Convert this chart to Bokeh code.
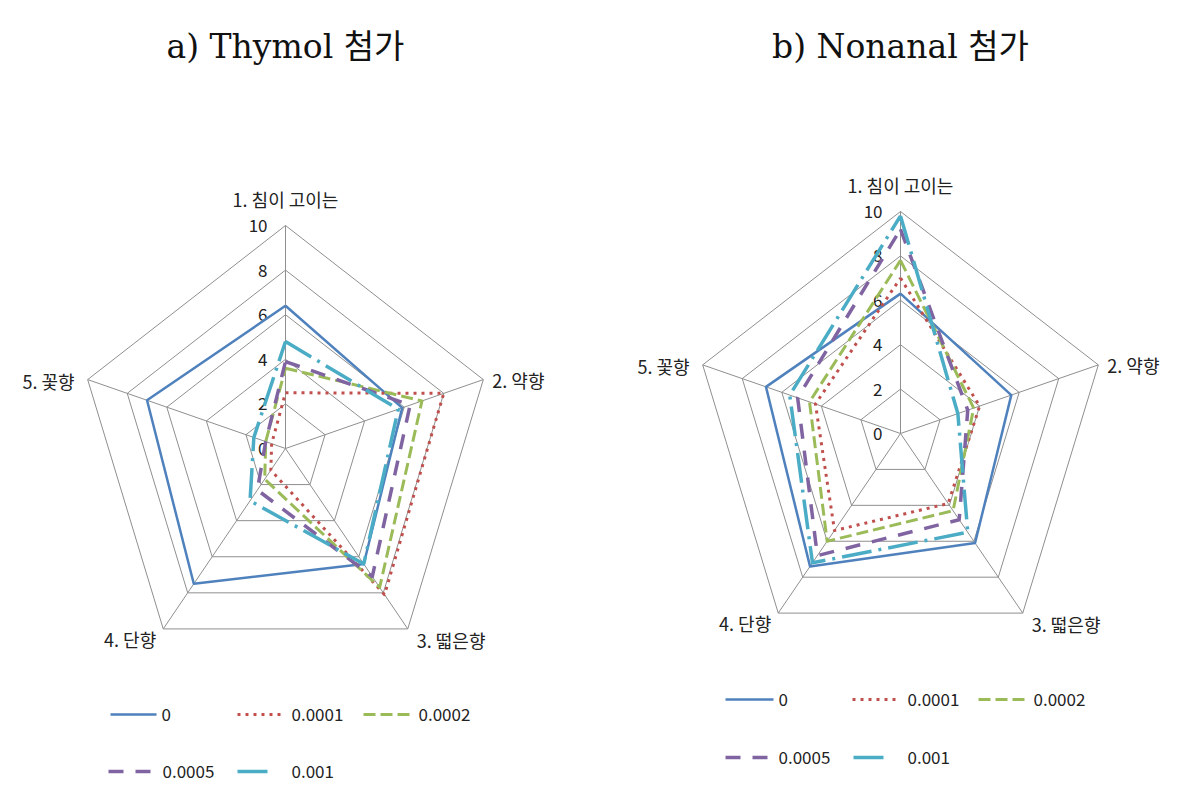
import numpy as np
from bokeh.plotting import figure
from bokeh.layouts import row
from bokeh.models import Range1d
from bokeh.core.properties import value
from bokeh.embed import file_html
from bokeh.resources import INLINE

# ---------------- data ----------------
categories = ["1. 침이 고이는", "2. 약향", "3. 떫은향", "4. 단향", "5. 꽃향"]
series_names = ["0", "0.0001", "0.0002", "0.0005", "0.001"]
tick_values = [0, 2, 4, 6, 8, 10]
titles = ["a) Thymol 첨가", "b) Nonanal 첨가"]

thymol_0 = [6.4, 5.9, 6.4, 7.5, 7.0]
thymol_0_0001 = [2.5, 8.0, 8.1, 1.2, 0.7]
thymol_0_0002 = [3.6, 6.9, 7.7, 1.7, 1.0]
thymol_0_0005 = [3.9, 6.3, 7.1, 2.3, 1.0]
thymol_0_001 = [4.8, 5.7, 6.4, 2.9, 1.6]

nonanal_0 = [6.3, 5.6, 6.1, 7.4, 6.8]
nonanal_0_0001 = [7.0, 4.0, 3.9, 5.4, 4.3]
nonanal_0_0002 = [7.8, 3.7, 4.3, 6.0, 4.6]
nonanal_0_0005 = [9.2, 3.4, 4.8, 6.8, 5.2]
nonanal_0_001 = [9.8, 2.9, 5.5, 7.2, 5.6]

# ---------------- styles ----------------
colors = ["#4F81BD", "#C0504D", "#9BBB59", "#8064A2", "#4BACC6"]
dashes = ["solid", "3 5", "12 5", "15 12", "30 7 3 7"]
widths = [2.5, 3, 3, 3.5, 3.5]
KFONT = "Noto Sans CJK KR"
GRID = "#8f8f8f"

W, H = 592, 790
ORIGIN = 0  # page pixel of figure top-left as seen in the screenshot


def make_chart(title, series, ox, cx, cy, kx, ky, legend_pos):
    def dx(px):
        return (px - cx) / kx

    def dy(py):
        return (cy - py) / ky

    p = figure(width=W, height=H, output_backend="svg", toolbar_location=None,
               x_range=Range1d(dx(ox), dx(ox + W)),
               y_range=Range1d(dy(ORIGIN + H), dy(ORIGIN)),
               x_axis_location=None, y_axis_location=None,
               min_border=0)
    p.grid.visible = False
    p.outline_line_color = None
    p.background_fill_color = "white"

    n = len(categories)
    ang = np.arange(n) * 2 * np.pi / n
    sx, sy = np.sin(ang), np.cos(ang)

    # grid pentagons
    for r in tick_values[1:]:
        xs = list(r * sx) + [r * sx[0]]
        ys = list(r * sy) + [r * sy[0]]
        p.line(xs, ys, line_color=GRID, line_width=1)
    rmax = tick_values[-1]
    p.segment(x0=[0] * n, y0=[0] * n, x1=list(rmax * sx), y1=list(rmax * sy),
              line_color=GRID, line_width=1)

    # tick labels
    p.text(x=[dx(cx - 18)] * len(tick_values), y=tick_values,
           text=[str(t) for t in tick_values], text_font=value(KFONT),
           text_font_size="17px", text_align="right", text_baseline="middle",
           text_color="#222222")

    # category labels (offsets in pixels from vertices)
    offs = [(0, -27, "center"), (9, 0, "left"), (9, 11, "left"),
            (-7, 10, "right"), (-13, 1, "right")]
    for i, cat in enumerate(categories):
        vx = cx + rmax * sx[i] * kx
        vy = cy - rmax * sy[i] * ky
        ox_, oy_, al = offs[i]
        p.text(x=[dx(vx + ox_)], y=[dy(vy + oy_)], text=[cat],
               text_font=value(KFONT), text_font_size="18px",
               text_align=al, text_baseline="middle", text_color="#222222")

    # series
    for vals, c, d, w in zip(series, colors, dashes, widths):
        v = np.array(vals)
        xs = list(v * sx) + [v[0] * sx[0]]
        ys = list(v * sy) + [v[0] * sy[0]]
        p.line(xs, ys, line_color=c, line_dash=d, line_width=w,
               line_join="round")

    # title
    p.text(x=[dx(cx)], y=[dy(46)], text=[title],
           text_font=value("DejaVu Serif, Noto Sans CJK KR"),
           text_font_size="33px", text_align="center", text_baseline="middle",
           text_color="#111111")

    # legend
    for (x0, x1, ytxt, xt), name, c, d, w in zip(legend_pos, series_names,
                                                 colors, dashes, widths):
        p.line([dx(x0), dx(x1)], [dy(ytxt), dy(ytxt)], line_color=c,
               line_dash=d, line_width=w)
        p.text(x=[dx(xt)], y=[dy(ytxt)], text=[name], text_font=value(KFONT),
               text_font_size="17px", text_align="left",
               text_baseline="middle", text_color="#222222")
    return p


left_legend = [(110, 156, 714, 161), (237, 283, 714, 291), (363, 410, 714, 418),
               (108, 155, 771, 162), (237, 267, 771, 291)]
right_legend = [(725, 773, 699, 778), (852, 898, 699, 907), (978, 1025, 699, 1033),
                (725, 768, 757, 778), (853, 883, 757, 907)]

p1 = make_chart(titles[0],
                [thymol_0, thymol_0_0001, thymol_0_0002, thymol_0_0005, thymol_0_001],
                ORIGIN, 285, 448, 20.8, 22.3, left_legend)
p2 = make_chart(titles[1],
                [nonanal_0, nonanal_0_0001, nonanal_0_0002, nonanal_0_0005, nonanal_0_001],
                ORIGIN + W, 900, 433, 20.8, 22.2, right_legend)

layout = row(p1, p2)
open("out.html", "w").write(file_html(layout, INLINE))
